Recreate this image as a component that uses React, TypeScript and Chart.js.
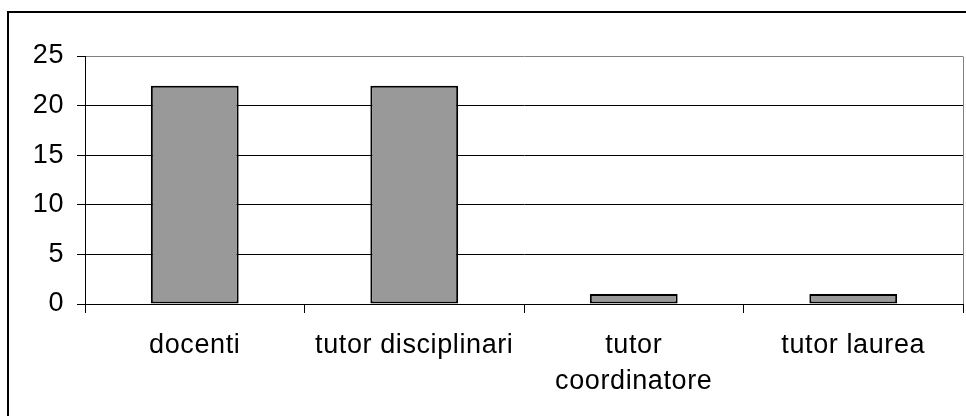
import React, { useEffect, useRef } from "react";
import { Chart, registerables } from "chart.js";

Chart.register(...registerables);

const categories: (string | string[])[] = [
  "docenti",
  "tutor disciplinari",
  ["tutor", "coordinatore"],
  "tutor laurea",
];
const values: number[] = [22, 22, 1, 1];
const yMin = 0;
const yMax = 25;
const yStep = 5;

const FONT = "'Liberation Sans', Arial, sans-serif";

export default function App() {
  const ref = useRef<HTMLCanvasElement | null>(null);

  useEffect(() => {
    document.body.style.overflow = "hidden";
    const canvas = ref.current;
    if (!canvas) return;
    const spacing = {
      id: "spacing",
      beforeDraw(chart: any) {
        const c: any = chart.ctx;
        if ("letterSpacing" in c) c.letterSpacing = "0.6px";
      },
    };
    const plotBorder = {
      id: "plotBorder",
      afterDatasetsDraw(chart: any) {
        const { ctx, chartArea } = chart;
        ctx.save();
        ctx.strokeStyle = "#808080";
        ctx.lineWidth = 1;
        ctx.beginPath();
        const x = Math.round(chartArea.right) + 0.5;
        ctx.moveTo(x, Math.round(chartArea.top) + 0.5);
        ctx.lineTo(x, Math.round(chartArea.bottom));
        ctx.stroke();
        ctx.restore();
      },
    };
    const chart = new Chart(canvas, {
      type: "bar",
      data: {
        labels: categories,
        datasets: [
          {
            data: values,
            backgroundColor: "#999999",
            borderColor: "#000000",
            borderWidth: 2,
            borderSkipped: false,
            categoryPercentage: 1,
            barPercentage: 0.4,
          },
        ],
      },
      options: {
        responsive: false,
        animation: false,
        maintainAspectRatio: false,
        layout: { padding: { left: 0, top: 56, right: 3, bottom: 0 } },
        plugins: {
          legend: { display: false },
          tooltip: { enabled: false },
          title: { display: false },
        },
        scales: {
          x: {
            type: "category",
            offset: true,
            afterFit(scale: any) {
              scale.height = 112;
            },
            grid: {
              offset: true,
              drawOnChartArea: false,
              drawTicks: true,
              tickLength: 9,
              color: "#000000",
              tickColor: "#000000",
            },
            border: { display: true, color: "#000000", width: 1 },
            ticks: {
              color: "#000000",
              font: { family: FONT, size: 27, lineHeight: 1.33 },
              padding: 15,
              maxRotation: 0,
              autoSkip: false,
            },
          },
          y: {
            min: yMin,
            max: yMax,
            afterFit(scale: any) {
              scale.width = 85;
            },
            grid: {
              drawTicks: true,
              tickLength: 8,
              color: (ctx: any) =>
                ctx.tick && ctx.tick.value === yMax ? "#808080" : "#000000",
              tickColor: "#000000",
            },
            border: { display: true, color: "#000000", width: 1 },
            ticks: {
              stepSize: yStep,
              color: "#000000",
              font: { family: FONT, size: 27 },
              padding: 13,
            },
          },
        },
      },
      plugins: [spacing, plotBorder],
    });
    return () => chart.destroy();
  }, []);

  return (
    <div>
      <div
        style={{
          position: "fixed",
          left: 7,
          top: 11,
          width: 1100,
          height: 600,
          border: "2px solid #000",
          boxSizing: "border-box",
        }}
      />
      <canvas
        ref={ref}
        width={966}
        height={416}
        style={{ position: "fixed", left: 0, top: 0, width: 966, height: 416 }}
      />
    </div>
  );
}
